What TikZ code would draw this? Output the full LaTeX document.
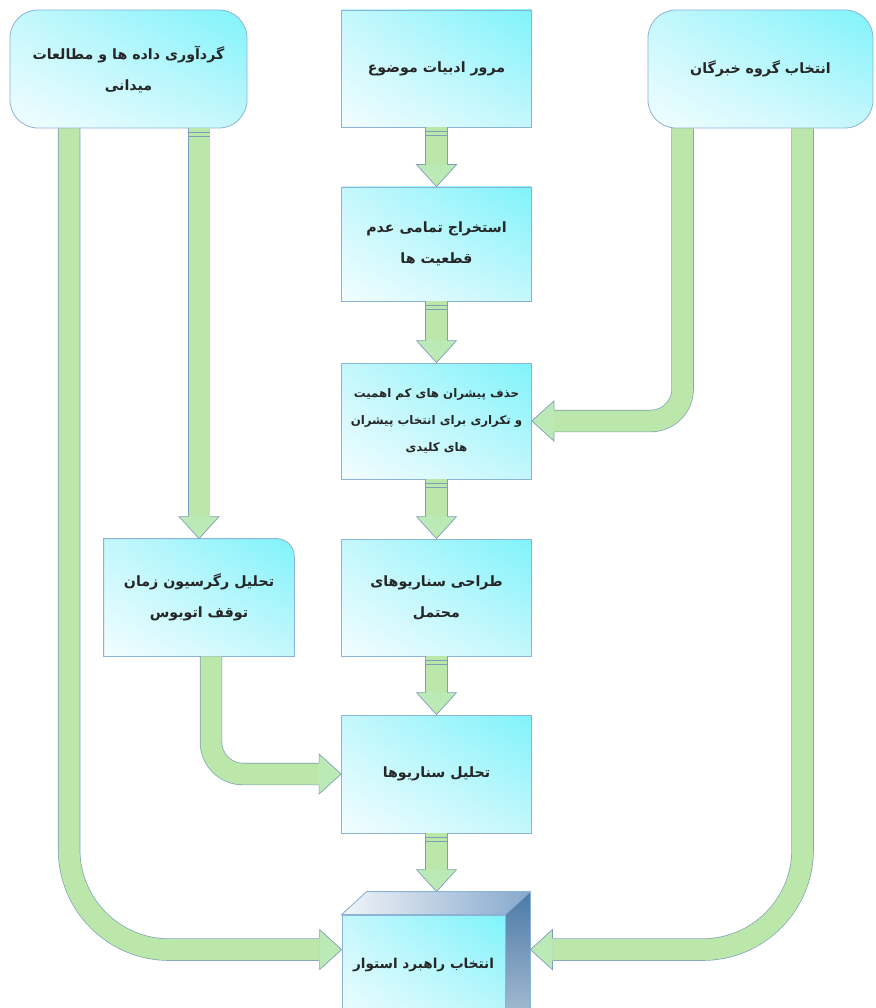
\documentclass[tikz,border=0pt]{standalone}
\usepackage{fontspec}
\newfontfamily\farsi[Script=Arabic]{DejaVu Sans}
\TeXXeTstate=1
\usepackage{tikz}
\usetikzlibrary{calc,shadings}
\definecolor{boxline}{HTML}{8DB3D4}
\definecolor{cyanhi}{HTML}{7FF3FB}
\definecolor{cyanlo}{HTML}{F2FDFF}
\definecolor{cyanmid}{HTML}{C4F7FC}
\definecolor{arrline}{HTML}{7E9FB8}
\definecolor{arrfill}{HTML}{BBE8AA}
\definecolor{cubetop}{HTML}{86A8CC}
\definecolor{cubeside}{HTML}{4C79A6}
\tikzset{>=latex}

% one line of right-to-left text
\newcommand{\rtl}[1]{\beginR #1\endR}
% block arrow head, tip at #1, pointing at angle #2
\newcommand{\tipat}[2]{\filldraw[head, shift={(#1)}, rotate=#2] (-22,-11.2) -- (-22,-20) -- (0,0) -- (-22,20) -- (-22,11.2);}
% two small bands where an arrow leaves a box
\newcommand{\nubat}[1]{\draw[arrline, line width=0.6pt] ($(#1)+(-11,4)$) -- ++(22,0) ($(#1)+(-11,8)$) -- ++(22,0);}

\begin{document}
\begin{tikzpicture}[x=1pt, y=-1pt]
        \tikzstyle{stage}=[draw=boxline, line width=0.8pt, lower left=cyanlo, upper right=cyanhi,
                upper left=cyanmid, lower right=cyanmid, minimum width=190pt, minimum height=117pt,
                inner sep=2pt, align=center, text=black!85, font=\farsi\bfseries\fontsize{14.2}{31}\selectfont]
        \tikzstyle{shaft}=[draw=arrline, line width=0.7pt, double=arrfill, double distance=21pt]
        \tikzstyle{head}=[draw=arrline, line width=0.7pt, fill=arrfill!85!cyanmid, line join=miter]

        \useasboundingbox (0,0) rectangle (875,1008);
        \clip (0,0) rectangle (875,1008);

        % top row
        \node[stage, rounded corners=28pt, minimum width=237pt, minimum height=118pt] (gather) at (128.5,69)
                {\rtl{گردآوری داده ها و مطالعات}\\\rtl{میدانی}};
        \node[stage] (review) at (436.5,68.5) {\rtl{مرور ادبیات موضوع}};
        \node[stage, rounded corners=28pt, minimum width=225pt, minimum height=118pt] (experts) at (760.5,69)
                {\rtl{انتخاب گروه خبرگان}};

        % middle column
        \node[stage, minimum height=114pt] (extract) at (436.5,244) {\rtl{استخراج تمامی عدم}\\\rtl{قطعیت ها}};
        \node[stage, minimum height=116pt, font=\farsi\bfseries\fontsize{11.8}{27}\selectfont] (filter) at (436.5,421)
                {\rtl{حذف پیشران های کم اهمیت}\\\rtl{و تکراری برای انتخاب پیشران}\\\rtl{های کلیدی}};
        \node[stage] (design) at (436.5,597.5) {\rtl{طراحی سناریوهای}\\\rtl{محتمل}};
        \node[stage, minimum height=118pt] (analyse) at (436.5,774) {\rtl{تحلیل سناریوها}};

        % regression box, only one corner rounded
        \node[stage, draw=none, shade=false, fill=none] (regress) at (199,597.5)
                {\rtl{تحلیل رگرسیون زمان}\\\rtl{توقف اتوبوس}};
        \shadedraw[draw=boxline, line width=0.8pt, lower left=cyanlo, upper right=cyanhi,
                upper left=cyanmid, lower right=cyanmid]
                (regress.south west) -- (regress.north west) -- ([xshift=-18pt]regress.north east)
                arc[start angle=90, end angle=0, radius=18pt] -- (regress.south east) -- cycle;
        \node[stage, draw=none, shade=false, fill=none] at (regress) {\rtl{تحلیل رگرسیون زمان}\\\rtl{توقف اتوبوس}};

        % final cube
        \node[stage, minimum width=163pt, minimum height=115pt] (choice) at (423.5,972.5) {};
        \filldraw[draw=boxline, line width=0.8pt, left color=white!88!cubetop, right color=cubetop]
                (choice.north west) -- ++(25,-23) -- ($(choice.north east)+(25,-23)$) -- (choice.north east) -- cycle;
        \filldraw[draw=boxline, line width=0.8pt, top color=cubeside, bottom color=cubeside!45]
                (choice.north east) -- ++(25,-23) -- ($(choice.south east)+(25,-23)$) -- (choice.south east) -- cycle;
        \node[font=\farsi\bfseries\fontsize{13.6}{31}\selectfont, text=black!85] at ($(choice.north)+(0,50)$) {\rtl{انتخاب راهبرد استوار}};
        \coordinate (choicetop) at ($(choice.north)+(13,-23)$);

        % straight arrows down the middle
        \foreach \a/\b in {review/extract, extract/filter, filter/design, design/analyse} {
                \draw[shaft] (\a.south) -- ($(\b.north)+(0,-22)$);
                \nubat{\a.south}
                \tipat{\b.north}{-90}
        }
        \draw[shaft] (analyse.south -| choicetop) -- ($(choicetop)+(0,-22)$);
        \nubat{analyse.south -| choicetop}
        \tipat{choicetop}{-90}

        % left side
        \draw[shaft] (regress.north |- gather.south) -- ($(regress.north)+(0,-22)$);
        \nubat{regress.north |- gather.south}
        \tipat{regress.north}{-90}
        \draw[shaft, rounded corners=100pt] ($(gather.south west)+(59.5,0)$) |- ($(choice.north west)+(-22,35)$);
        \tipat{$(choice.north west)+(0,35)$}{0}
        \draw[shaft, rounded corners=32pt] ($(regress.south)+(12,0)$) |- ($(analyse.west)+(-22,0)$);
        \tipat{analyse.west}{0}

        % right side
        \draw[shaft, rounded corners=32pt] ($(experts.south west)+(35,0)$) |- ($(filter.east)+(22,0)$);
        \tipat{filter.east}{180}
        \draw[shaft, rounded corners=100pt] ($(experts.south west)+(155,0)$) |- ($(choice.north east)+(47,35)$);
        \tipat{$(choice.north east)+(25,35)$}{180}
\end{tikzpicture}
\end{document}
